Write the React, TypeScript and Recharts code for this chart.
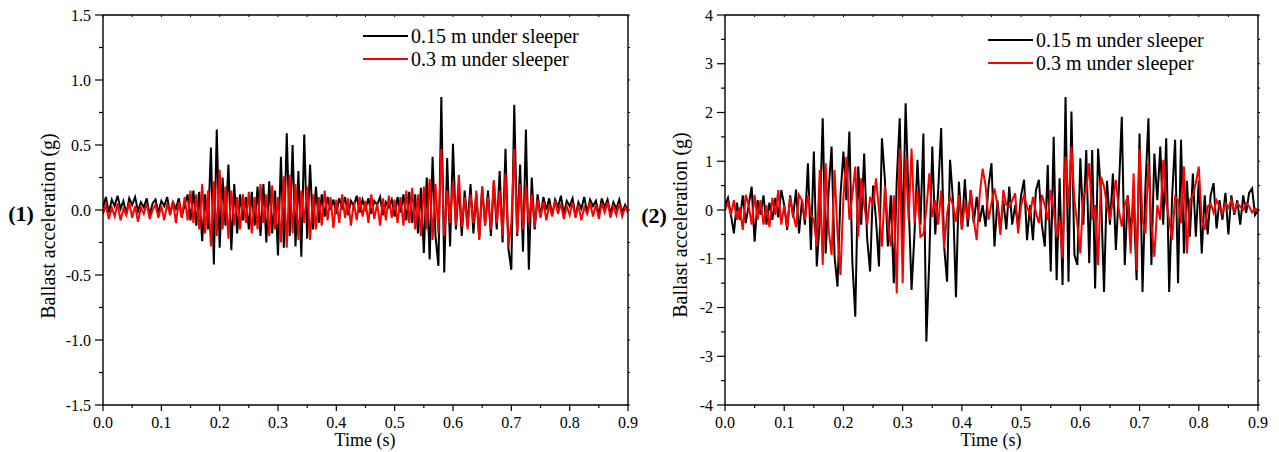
import React from 'react';
import { LineChart, Line, XAxis, YAxis } from 'recharts';

const FONT = "'Liberation Serif', 'Times New Roman', serif";
const STEP = 0.005; // sampling step of the records, s

const timeTicks = [0, 0.05, 0.1, 0.15, 0.2, 0.25, 0.3, 0.35, 0.4, 0.45, 0.5, 0.55, 0.6, 0.65, 0.7, 0.75, 0.8, 0.85, 0.9];
const leftTicks = [-1.5, -1.25, -1, -0.75, -0.5, -0.25, 0, 0.25, 0.5, 0.75, 1, 1.25, 1.5];
const rightTicks = [-4, -3.5, -3, -2.5, -2, -1.5, -1, -0.5, 0, 0.5, 1, 1.5, 2, 2.5, 3, 3.5, 4];

// panel (1): 0.15 m under sleeper
const left015 = [
  0.02, 0.10, -0.02, 0.08, 0.03, 0.11, 0.01, 0.07, -0.03, 0.09,
  0.04, 0.10, -0.01, 0.06, 0.02, 0.09, -0.04, 0.05, 0.08, -0.02,
  0.07, 0.03, 0.10, -0.03, 0.06, 0.01, 0.09, -0.05, 0.04, 0.12,
  -0.08, 0.15, -0.12, 0.14, -0.24, 0.12, -0.15, 0.48, -0.42, 0.62,
  -0.29, 0.25, -0.12, 0.35, -0.31, 0.20, -0.18, 0.12, -0.08, 0.10,
  -0.15, 0.14, -0.12, 0.18, -0.20, 0.20, -0.25, 0.22, -0.18, 0.15,
  -0.35, 0.41, -0.29, 0.59, -0.20, 0.50, -0.28, 0.30, -0.36, 0.58,
  -0.22, 0.35, -0.15, 0.18, -0.10, 0.12, -0.05, 0.10, 0.00, 0.08,
  -0.03, 0.09, 0.02, 0.10, -0.04, 0.07, 0.03, 0.11, -0.02, 0.08,
  0.01, 0.09, -0.03, 0.07, 0.04, 0.10, -0.04, 0.06, 0.02, 0.08,
  -0.05, 0.10, -0.02, 0.12, -0.08, 0.14, -0.10, 0.12, -0.18, 0.17,
  -0.33, 0.25, -0.38, 0.41, -0.20, -0.43, 0.87, -0.48, 0.40, -0.28,
  0.51, -0.15, 0.20, -0.20, 0.15, -0.12, 0.20, -0.18, 0.12, -0.22,
  0.18, -0.12, 0.15, -0.20, 0.22, -0.15, 0.30, -0.25, 0.47, -0.30,
  -0.46, 0.81, -0.20, 0.35, -0.32, 0.62, -0.46, 0.25, -0.15, 0.12,
  -0.05, 0.10, 0.00, 0.09, -0.04, 0.08, 0.02, 0.11, -0.03, 0.07,
  0.03, 0.09, -0.05, 0.06, 0.01, 0.10, -0.02, 0.08, 0.03, 0.07,
  -0.04, 0.09, 0.02, 0.08, -0.03, 0.06, 0.01, 0.08, -0.02, 0.04, 0.00,
];

// panel (1): 0.3 m under sleeper
const left03 = [
  -0.03, 0.04, -0.07, 0.02, -0.05, 0.05, -0.08, 0.01, -0.04, 0.06,
  -0.06, 0.03, -0.09, 0.02, -0.03, 0.05, -0.07, 0.00, 0.04, -0.06,
  0.03, -0.08, 0.05, -0.04, 0.07, -0.10, 0.06, -0.06, 0.10, -0.08,
  0.15, -0.10, 0.12, -0.15, 0.20, -0.18, 0.15, -0.28, 0.22, -0.20,
  0.31, -0.15, 0.18, -0.22, 0.15, -0.12, 0.10, -0.15, 0.12, -0.10,
  0.14, -0.18, 0.10, -0.15, 0.20, -0.10, 0.12, -0.20, 0.19, -0.15,
  0.10, -0.25, 0.26, -0.29, 0.27, -0.18, 0.20, -0.23, 0.15, -0.10,
  0.18, -0.23, 0.12, -0.15, 0.10, -0.12, 0.15, -0.08, 0.10, -0.14,
  0.08, -0.10, 0.12, -0.06, 0.09, -0.12, 0.06, -0.08, 0.10, -0.05,
  0.07, -0.10, 0.12, -0.07, 0.05, -0.12, 0.09, -0.08, 0.11, -0.06,
  0.08, -0.10, 0.10, -0.12, 0.15, -0.10, 0.17, -0.15, 0.12, -0.20,
  0.18, -0.15, 0.24, -0.23, 0.20, -0.18, 0.47, -0.20, 0.15, -0.10,
  0.22, -0.12, 0.27, -0.13, 0.10, -0.15, 0.12, -0.10, 0.15, -0.23,
  0.18, -0.12, 0.10, -0.15, 0.23, -0.10, 0.15, -0.20, 0.28, -0.28,
  -0.10, 0.47, -0.18, 0.20, -0.15, 0.18, -0.10, 0.12, -0.13, 0.08,
  -0.06, 0.06, -0.08, 0.04, -0.05, 0.07, -0.03, 0.05, -0.07, 0.03,
  -0.04, 0.06, -0.06, 0.04, -0.08, 0.02, -0.03, 0.06, -0.05, 0.04,
  -0.07, 0.05, -0.02, 0.06, -0.06, 0.03, -0.04, 0.05, -0.05, 0.02, -0.02,
];

// panel (2): 0.15 m under sleeper
const right015 = [
  0.10, 0.25, -0.10, -0.48, 0.15, -0.20, 0.30, -0.27, 0.10, 0.48,
  -0.65, 0.20, -0.10, 0.30, -0.30, 0.15, -0.20, 0.25, -0.15, 0.41,
  0.10, -0.41, 0.30, -0.15, 0.42, -0.48, 0.20, -0.30, 0.96, -0.82,
  1.20, -1.16, -0.20, 1.88, -0.89, 0.40, 1.30, -0.96, -1.57, 0.30,
  1.20, 0.20, 1.61, -1.06, -2.19, 0.89, -0.30, 1.16, -0.58, -1.26,
  0.50, -0.20, -1.16, 1.47, 0.62, -0.75, 0.30, -1.50, 0.60, 1.88,
  -0.60, 2.19, 0.20, -1.64, -0.48, 1.03, -0.30, 1.57, -2.70, -1.00,
  1.30, -0.50, 0.40, 1.68, -0.75, -1.47, 1.03, 0.20, -1.79, 0.58,
  -0.40, 0.63, -0.34, 0.41, -0.27, 0.27, -0.24, 0.10, -0.34, 0.50,
  0.96, -0.75, 0.20, -0.41, 0.20, -0.40, 0.48, -0.30, 0.10, -0.34,
  0.30, 0.62, -0.62, 0.10, -0.62, 0.40, 0.62, -0.30, -0.75, 0.92,
  -1.26, 1.50, -1.44, 0.65, -1.54, 2.32, -1.47, 2.02, -0.92, -1.13,
  1.06, -0.30, 1.23, -1.09, 1.23, -1.61, 1.26, 0.30, -1.68, 0.60,
  -0.30, 0.75, -0.82, 0.40, 1.91, -1.13, 0.30, -0.41, 0.20, -1.44,
  1.57, -1.68, 0.50, 1.88, -1.13, 1.16, 0.20, 1.30, -0.30, 1.47,
  -1.68, 0.27, 1.44, -1.50, 1.44, -0.89, 0.60, -0.55, 0.75, -0.55,
  0.60, -0.89, 0.30, -0.50, 0.30, 0.55, -0.38, 0.20, -0.20, 0.35,
  -0.50, 0.30, -0.10, 0.20, -0.30, 0.30, -0.06, 0.35, 0.44, -0.10, 0.00,
];

// panel (2): 0.3 m under sleeper
const right03 = [
  0.00, 0.15, -0.10, 0.20, -0.20, 0.05, -0.41, 0.31, 0.10, -0.30,
  0.31, -0.20, 0.20, -0.30, 0.10, -0.35, 0.25, -0.10, 0.41, -0.30,
  0.10, -0.35, 0.27, -0.10, -0.35, 0.31, 0.20, -0.20, 0.30, -0.10,
  -0.20, -0.75, 0.82, -1.13, 0.96, -0.40, -0.92, 0.82, -0.50, -1.33,
  0.27, 1.09, -0.20, 0.30, 0.89, -0.55, 0.65, 0.10, -0.30, 0.27,
  0.10, 0.65, 0.00, -0.75, 0.50, -0.30, -0.75, 0.30, -1.71, 1.26,
  -1.50, 1.09, -0.20, 1.26, -0.27, 0.41, -0.55, -0.50, 0.00, 0.75,
  -0.14, 0.20, -0.30, 0.40, -0.79, -0.07, 0.27, 0.10, -0.24, 0.30,
  -0.40, 0.15, -0.20, 0.41, -0.20, -0.62, 0.30, 0.85, 0.50, -0.20,
  0.14, 0.44, 0.10, -0.51, 0.41, 0.10, 0.07, 0.20, 0.34, -0.48,
  0.10, 0.30, 0.07, -0.10, 0.27, -0.05, -0.27, 0.31, 0.10, -0.20,
  0.41, 0.00, -0.55, -0.20, -0.99, 1.09, 0.10, 1.30, 0.20, -0.30,
  -0.89, 0.30, 0.40, 0.96, -0.20, 0.10, -1.13, 0.68, 0.48, 0.10,
  -0.20, 0.20, 0.62, 0.00, -0.34, 0.10, 0.27, -0.89, 0.75, -1.23,
  1.26, -0.20, -0.48, 0.96, -0.27, -0.96, 0.10, -0.20, 1.03, 0.14,
  -0.20, -0.62, 0.27, 0.20, -0.27, 0.89, -0.89, 0.20, 0.30, 0.55,
  0.89, -0.20, -0.41, 0.07, 0.14, -0.05, 0.20, 0.07, -0.07, 0.14,
  0.05, 0.20, -0.03, 0.14, 0.07, 0.00, 0.14, 0.07, -0.05, 0.03, 0.00,
];

const buildRows = (a: number[], b: number[]) =>
  a.map((v, i) => ({ t: Number((i * STEP).toFixed(3)), s015: v, s03: b[i] }));

const leftRows = buildRows(left015, left03);
const rightRows = buildRows(right015, right03);

const isMajor = (v: number, unit: number) => Math.abs(v / unit - Math.round(v / unit)) < 1e-6;

function BottomTick(props: any) {
  const { x, y, payload } = props;
  const major = isMajor(payload.value, 0.1);
  return (
    <g>
      <line x1={x} x2={x} y1={y} y2={y + (major ? 6 : 3)} stroke="#000" strokeWidth={1.2} />
      {major && (
        <text x={x} y={y + 23} textAnchor="middle" fontSize={16} fontFamily={FONT} fill="#000">
          {payload.value.toFixed(1)}
        </text>
      )}
    </g>
  );
}

function TopTick(props: any) {
  const { x, y } = props;
  return <line x1={x} x2={x} y1={y} y2={y + 2} stroke="#000" strokeWidth={1} />;
}

function RightTick(props: any) {
  const { x, y } = props;
  return <line x1={x} x2={x + 2} y1={y} y2={y} stroke="#000" strokeWidth={1} />;
}

function makeLeftTick(unit: number, fmt: (v: number) => string) {
  return function LeftTick(props: any) {
    const { x, y, payload } = props;
    const major = isMajor(payload.value, unit);
    return (
      <g>
        <line x1={x - (major ? 8 : 4)} x2={x} y1={y} y2={y} stroke="#000" strokeWidth={1.2} />
        {major && (
          <text x={x - 12} y={y} textAnchor="end" dominantBaseline="central" fontSize={16} fontFamily={FONT} fill="#000">
            {fmt(payload.value)}
          </text>
        )}
      </g>
    );
  };
}

const LeftTick1 = makeLeftTick(0.5, (v) => v.toFixed(1));
const LeftTick2 = makeLeftTick(1, (v) => String(v));

function Panel({ rows, yDomain, yTicks, YTick, width, margin }: any) {
  const axisLine = { stroke: '#000', strokeWidth: 1.4 };
  return (
    <LineChart width={width} height={452} data={rows} margin={margin}>
      <XAxis
        dataKey="t" type="number" domain={[0, 0.9]} ticks={timeTicks} interval={0}
        allowDataOverflow height={30} tickSize={0} tickMargin={0}
        axisLine={axisLine} tickLine={false} tick={<BottomTick />}
      />
      <XAxis
        xAxisId="top" orientation="top" dataKey="t" type="number" domain={[0, 0.9]} ticks={timeTicks}
        interval={0} allowDataOverflow height={10} tickSize={0} tickMargin={0}
        axisLine={axisLine} tickLine={false} tick={<TopTick />}
      />
      <YAxis
        type="number" domain={yDomain} ticks={yTicks} interval={0} allowDataOverflow width={60}
        tickSize={0} tickMargin={0} axisLine={axisLine} tickLine={false} tick={<YTick />}
      />
      <YAxis
        yAxisId="right" orientation="right" type="number" domain={yDomain} ticks={yTicks} interval={0}
        allowDataOverflow width={10} tickSize={0} tickMargin={0} axisLine={axisLine} tickLine={false}
        tick={<RightTick />}
      />
      <Line dataKey="s015" type="linear" stroke="#000000" strokeWidth={2} dot={false} isAnimationActive={false} />
      <Line dataKey="s03" type="linear" stroke="#ff0000" strokeWidth={2} dot={false} isAnimationActive={false} />
    </LineChart>
  );
}

function LegendBox({ x, y }: { x: number; y: number }) {
  const items = [
    { label: '0.15 m under sleeper', color: '#000000', dy: 0 },
    { label: '0.3 m under sleeper', color: '#ff0000', dy: 23 },
  ];
  return (
    <g>
      {items.map((it) => (
        <g key={it.label}>
          <line x1={x} x2={x + 45} y1={y + it.dy} y2={y + it.dy} stroke={it.color} strokeWidth={2} />
          <text x={x + 48} y={y + it.dy} dominantBaseline="central" fontSize={20} fontFamily={FONT} fill="#000">
            {it.label}
          </text>
        </g>
      ))}
    </g>
  );
}

export default function App() {
  return (
    <div style={{ position: 'absolute', left: 0, top: 0, width: 1279, height: 452, background: '#fff' }}>
      <div style={{ position: 'absolute', left: 0, top: 0 }}>
        <Panel rows={leftRows} yDomain={[-1.5, 1.5]} yTicks={leftTicks} YTick={LeftTick1} width={640}
          margin={{ top: 5, right: 2, bottom: 17, left: 43 }} />
      </div>
      <div style={{ position: 'absolute', left: 640, top: 0 }}>
        <Panel rows={rightRows} yDomain={[-4, 4]} yTicks={rightTicks} YTick={LeftTick2} width={639}
          margin={{ top: 5, right: 11, bottom: 17, left: 25 }} />
      </div>
      <svg width={1279} height={452} style={{ position: 'absolute', left: 0, top: 0, pointerEvents: 'none' }}>
        <text x={21} y={221} textAnchor="middle" fontSize={22} fontWeight="bold" fontFamily={FONT}>(1)</text>
        <text x={654} y={223} textAnchor="middle" fontSize={22} fontWeight="bold" fontFamily={FONT}>(2)</text>
        <text x={48} y={226} transform="rotate(-90 48 226)" textAnchor="middle" dominantBaseline="central" fontSize={20} fontFamily={FONT}>
          Ballast acceleration (g)
        </text>
        <text x={680} y={225} transform="rotate(-90 680 225)" textAnchor="middle" dominantBaseline="central" fontSize={20} fontFamily={FONT}>
          Ballast acceleration (g)
        </text>
        <text x={365} y={446} textAnchor="middle" fontSize={18} fontFamily={FONT}>Time (s)</text>
        <text x={991} y={446} textAnchor="middle" fontSize={18} fontFamily={FONT}>Time (s)</text>
        <LegendBox x={363} y={36} />
        <LegendBox x={988} y={40} />
      </svg>
    </div>
  );
}
